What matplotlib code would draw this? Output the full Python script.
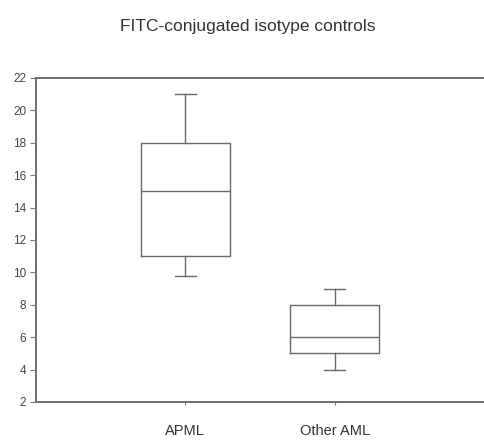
import matplotlib
matplotlib.use('Agg')
import matplotlib.pyplot as plt

plt.rcParams['font.family'] = ['Liberation Sans', 'DejaVu Sans']

groups = ['APML', 'Other AML']
whisker_low = [9.8, 4.0]
q1 = [11.0, 5.0]
median = [15.0, 6.0]
q3 = [18.0, 8.0]
whisker_high = [21.0, 9.0]
yticks = [2, 4, 6, 8, 10, 12, 14, 16, 18, 20, 22]

stats = []
for i in range(len(groups)):
    stats.append({'label': groups[i], 'whislo': whisker_low[i], 'q1': q1[i],
                  'med': median[i], 'q3': q3[i], 'whishi': whisker_high[i],
                  'fliers': []})

fig = plt.figure(figsize=(4.84, 4.42), dpi=100)
ax = fig.add_axes([36 / 484, 1 - 402 / 442, 1 - 36 / 484, (402 - 78) / 442])

lc = '#6a6a6a'
ax.bxp(stats, positions=[1, 2], widths=0.6, capwidths=0.14, showfliers=False,
       boxprops=dict(color=lc, linewidth=1.0),
       whiskerprops=dict(color=lc, linewidth=1.0),
       capprops=dict(color=lc, linewidth=1.0),
       medianprops=dict(color=lc, linewidth=1.0))

ax.set_xlim(0, 3)
ax.set_ylim(2, 22)
ax.set_yticks(yticks)
ax.set_yticklabels([str(t) for t in yticks], fontsize=8.5, color='#444444')
ax.set_xticks([1, 2])
ax.set_xticklabels(groups, fontsize=10.5, color='#333333')
ax.tick_params(axis='y', length=4, width=0.8, color='#777777', pad=3)
ax.tick_params(axis='x', length=2, width=0.8, color='#777777', pad=14)

ax.spines['right'].set_visible(False)
for s in ['left', 'top', 'bottom']:
    ax.spines[s].set_color('#6e6e6e')
    ax.spines[s].set_linewidth(1.4)

fig.text(0.512, 0.941, 'FITC-conjugated isotype controls', ha='center', va='center',
         fontsize=12.5, color='#333333')

fig.savefig('out.png', dpi=100)
